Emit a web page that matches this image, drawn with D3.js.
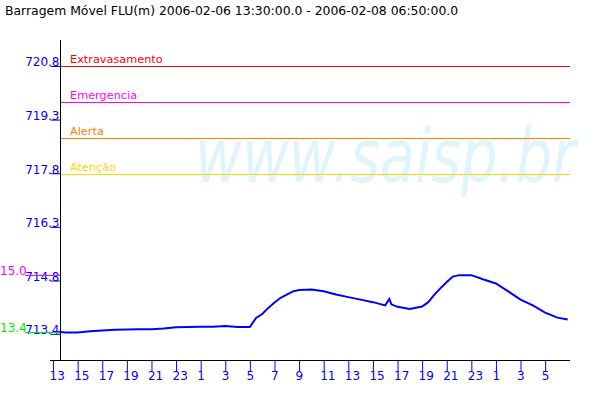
<!DOCTYPE html>
<html>
<head>
<meta charset="utf-8">
<script src="https://cdn.jsdelivr.net/npm/d3@7"></script>
<style>
html,body{margin:0;padding:0;background:#fff;}
svg{display:block;}
text{font-family:"DejaVu Sans",sans-serif;font-size:12px;}
</style>
</head>
<body>
<svg id="chart" width="600" height="400"></svg>
<script>
// ---------- data ----------
const title = "Barragem Móvel FLU(m) 2006-02-06 13:30:00.0 - 2006-02-08 06:50:00.0";
const watermark = "www.saisp.br";
const times = [
  "2006-02-06 13:30","2006-02-06 14:00","2006-02-06 15:00","2006-02-06 16:00","2006-02-06 17:00",
  "2006-02-06 18:00","2006-02-06 19:00","2006-02-06 20:00","2006-02-06 21:00","2006-02-06 22:00",
  "2006-02-06 23:00","2006-02-07 00:00","2006-02-07 01:00","2006-02-07 02:00","2006-02-07 03:00",
  "2006-02-07 04:00","2006-02-07 05:00","2006-02-07 05:30","2006-02-07 06:00","2006-02-07 06:30",
  "2006-02-07 07:00","2006-02-07 07:30","2006-02-07 08:00","2006-02-07 08:30","2006-02-07 09:00",
  "2006-02-07 10:00","2006-02-07 11:00","2006-02-07 12:00","2006-02-07 13:00","2006-02-07 14:00",
  "2006-02-07 15:00","2006-02-07 16:00","2006-02-07 16:20","2006-02-07 16:30","2006-02-07 17:00",
  "2006-02-07 18:00","2006-02-07 19:00","2006-02-07 19:30","2006-02-07 20:00","2006-02-07 20:30",
  "2006-02-07 21:00","2006-02-07 21:30","2006-02-07 22:00","2006-02-07 23:00","2006-02-08 00:00",
  "2006-02-08 01:00","2006-02-08 02:00","2006-02-08 03:00","2006-02-08 04:00","2006-02-08 05:00",
  "2006-02-08 06:00","2006-02-08 06:50"
];
const levels = [
  713.42,713.40,713.40,713.43,713.45,
  713.47,713.48,713.49,713.49,713.51,
  713.54,713.55,713.56,713.56,713.58,
  713.55,713.55,713.80,713.91,714.08,
  714.23,714.36,714.45,714.54,714.58,
  714.59,714.54,714.45,714.38,714.31,
  714.24,714.15,714.33,714.18,714.11,
  714.05,714.12,714.24,714.45,714.63,
  714.80,714.95,714.99,714.99,714.87,
  714.76,714.54,714.31,714.15,713.95,
  713.81,713.76
];
const yTickValues = [713.36,714.84,716.33,717.82,719.31,720.8];
const thresholdNames = ["Extravasamento","Emergencia","Alerta","Atenção"];
const thresholdValues = [720.8,719.8,718.8,717.8];
const thresholdColors = ["#ff0000","#ff00ff","#ff8000","#ffd800"];
const startTime = "2006-02-06 13:30";
const endTime = "2006-02-08 06:50";
const firstTick = "2006-02-06 13:00";

// ---------- setup ----------
const parse = d3.timeParse("%Y-%m-%d %H:%M");
const data = times.map((t,i)=>({t:parse(t), v:levels[i]}));
const svg = d3.select("#chart");

const x = d3.scaleTime().domain([parse(startTime), parse(endTime)]).range([59.2, 567.7]);
const y = d3.scaleLinear().domain([712.633, 721.522]).range([360, 40]);

// watermark
svg.append("text")
  .attr("transform","translate(195,182) scale(0.775,1)")
  .style("font-size","74px").style("font-style","italic")
  .attr("fill","#e0f4fc").text(watermark);

// title
svg.append("text").attr("x",5).attr("y",15).attr("fill","#000")
  .style("font-size","12.4px").text(title);

// thresholds
thresholdValues.forEach((v,i)=>{
  const yy = Math.round(y(v))+0.5;
  svg.append("line").attr("x1",60).attr("x2",570).attr("y1",yy).attr("y2",yy)
    .attr("stroke",thresholdColors[i]).attr("stroke-width",1);
  svg.append("text").attr("x",70).attr("y",yy-4).attr("fill",thresholdColors[i])
    .style("font-size","11.3px").text(thresholdNames[i]);
});

// y axis
const yAxis = d3.axisLeft(y).tickValues(yTickValues).tickFormat(d3.format(".1f")).tickSize(10).tickPadding(-10);
const gy = svg.append("g").attr("transform","translate(60.5,0)").call(yAxis);
gy.select(".domain").remove();
gy.selectAll(".tick line").attr("stroke","#0000ff");
gy.selectAll(".tick text").attr("fill","#0000ff").attr("dy",0).attr("x",-1)
  .style("font-size","12px").style("font-family","DejaVu Sans").attr("text-anchor","end");
svg.append("line").attr("x1",60.5).attr("x2",60.5).attr("y1",40).attr("y2",360).attr("stroke","#000");

// x axis
const xTicks = d3.timeHour.range(parse(firstTick), parse(endTime), 2);
const xAxis = d3.axisBottom(x).tickValues(xTicks).tickFormat(d3.timeFormat("%-H")).tickSize(11).tickPadding(0);
const gx = svg.append("g").attr("transform","translate(0,360.5)").call(xAxis);
gx.select(".domain").remove();
gx.selectAll(".tick line").attr("stroke","#0000ff");
gx.selectAll(".tick text").attr("fill","#0000ff").attr("text-anchor","start").attr("x",-4).attr("y",19).attr("dy",0)
  .style("font-size","12px").style("font-family","DejaVu Sans");
svg.append("line").attr("x1",50).attr("x2",570).attr("y1",360.5).attr("y2",360.5).attr("stroke","#000");

// max / min markers
const vMax = d3.max(levels), vMin = d3.min(levels);
const fmt = v => (v - 700).toFixed(1);
[[vMax,"#ff00ff"],[vMin,"#00ee00"]].forEach(([v,c])=>{
  const yy = Math.round(y(v))+0.5;
  svg.append("line").attr("x1",25).attr("x2",60).attr("y1",yy).attr("y2",yy).attr("stroke",c);
  svg.append("text").attr("x",0).attr("y",yy-1).attr("fill",c).text(fmt(v));
});

// series
svg.append("path").datum(data)
  .attr("fill","none").attr("stroke","#0000ff").attr("stroke-width",2)
  .attr("d", d3.line().x(d=>x(d.t)).y(d=>y(d.v)));
</script>
</body>
</html>
